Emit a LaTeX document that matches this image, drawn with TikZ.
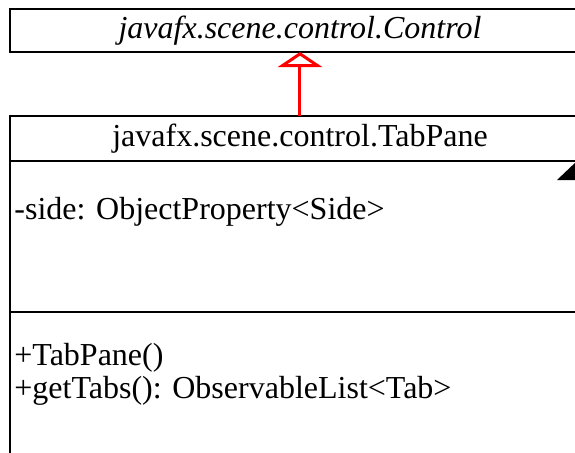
\documentclass[tikz,border=0pt]{standalone}
\usepackage{fontspec}
\setmainfont{LiberationSerif}[Extension=.ttf, UprightFont=*-Regular, ItalicFont=*-Italic, BoldFont=*-Bold, BoldItalicFont=*-BoldItalic]
\usetikzlibrary{arrows.meta,positioning}
\tikzset{
  umlpart/.style={draw, line width=1pt, rectangle, minimum width=290pt, inner sep=0pt, outer sep=0pt},
  umlname/.style={font=\fontsize{16}{19}\selectfont},
  umlabstract/.style={font=\fontsize{16}{19}\selectfont\itshape},
  umltext/.style={font=\fontsize{16}{19}\selectfont, inner sep=0pt, anchor=west},
  inherit/.style={draw=red, line width=1.5pt, -{Triangle[open, width=22pt, length=7.5pt]}}
}

\begin{document}
\begin{tikzpicture}[x=0.5pt,y=-0.5pt]
        \clip (0,0) rectangle (575,452);
        % super class
        \node[umlpart, umlabstract, minimum height=21.5pt] (control) at (300,30.5) {javafx.scene.control.Control};
        % TabPane class
        \node[umlpart, umlname, minimum height=22.5pt] (title) at (300,138.5) {javafx.scene.control.TabPane};
        \node[umlpart, minimum height=75.5pt, below=0pt of title] (attrs) {};
        \node[umlpart, minimum height=80pt, below=0pt of attrs] (ops) {};
        \node[umltext] (side) at (14,212) {-side: ObjectProperty<Side>};
        \node[umltext] (ctor) at (14,358) {+TabPane()};
        \node[umltext] (tabs) at (14,391) {+getTabs(): ObservableList<Tab>};
        \fill (557,180) -- (577,161) -- (577,180) -- cycle;
        \draw[inherit] (title) -- (control);
    \end{tikzpicture}
\end{document}
